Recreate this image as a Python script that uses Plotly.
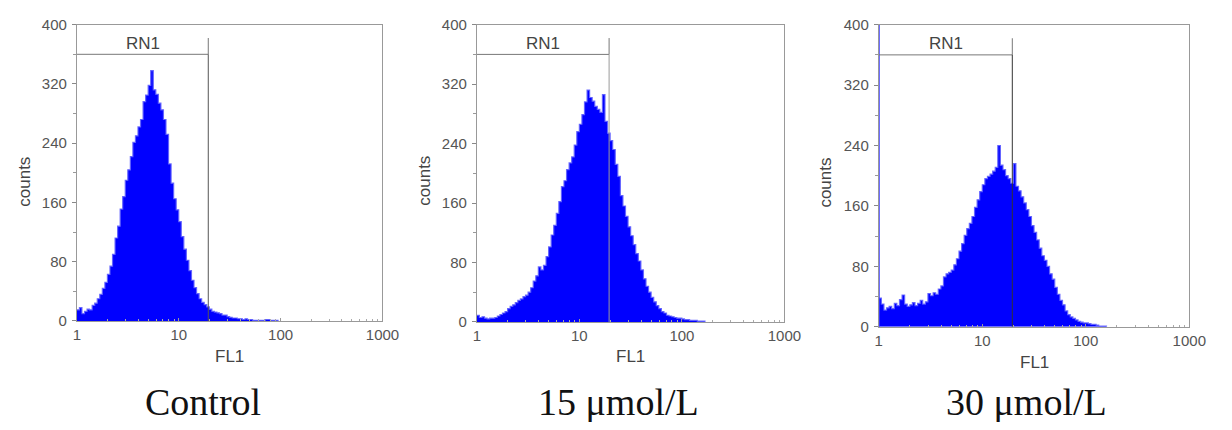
import math
import plotly.graph_objects as go

# ---------------- data ----------------
panel_titles = ["Control", "15 μmol/L", "30 μmol/L"]
x_tick_values = [1, 10, 100, 1000]
y_tick_values = [0, 80, 160, 240, 320, 400]
channels_per_decade = 40          # log-channel resolution of FL1

counts_control = [
    15, 18, 10, 13, 16, 15, 21, 24, 30, 36, 44, 52, 63, 74, 90, 112, 128, 151, 168, 190,
    204, 222, 241, 250, 262, 272, 296, 305, 318, 338, 312, 306, 294, 285, 272, 252, 212, 186, 165, 150,
    134, 114, 97, 82, 68, 55, 45, 37, 30, 25, 22, 19, 16, 13, 12, 11, 10, 8, 8, 6,
    5, 4, 4, 3, 3, 2, 3, 2, 2, 1, 1, 1, 1, 1, 2, 2, 1, 1, 1, 0,
]
counts_15 = [
    9, 6, 7, 5, 4, 5, 5, 6, 8, 10, 12, 14, 18, 21, 23, 26, 29, 31, 34, 36,
    40, 46, 55, 62, 74, 70, 76, 88, 101, 117, 130, 146, 162, 182, 190, 205, 214, 222, 238, 256,
    266, 279, 296, 312, 302, 297, 290, 286, 282, 306, 270, 254, 244, 232, 212, 196, 170, 156, 142, 128,
    116, 104, 92, 82, 70, 58, 48, 40, 33, 27, 22, 18, 14, 12, 9, 8, 7, 6, 5, 5,
    4, 3, 3, 2, 2, 2, 1, 1, 1, 0,
]
counts_30 = [
    38, 30, 22, 25, 27, 24, 31, 28, 36, 42, 30, 27, 29, 32, 28, 31, 35, 30, 33, 44,
    41, 45, 43, 50, 54, 66, 70, 72, 75, 82, 90, 100, 110, 121, 130, 137, 146, 158, 168, 179,
    188, 196, 199, 202, 206, 211, 240, 214, 208, 200, 196, 190, 216, 186, 180, 172, 164, 155, 146, 134,
    125, 115, 104, 94, 88, 80, 70, 63, 52, 43, 35, 29, 21, 16, 13, 11, 9, 7, 6, 5,
    5, 4, 3, 3, 2, 1, 1, 1, 0,
]
first_channel_offscale_30 = 450   # first channel of the 30 μmol/L sample is off scale

gate_label = "RN1"
gate_upper_fl1 = 19.5
gate_level_counts = 360
gate_marker_top_counts = 382
gate_label_counts = 375
gate_line_colors = ["#555555", "#9a9a9a", "#333333"]

all_counts = [counts_control, counts_15, counts_30]

# ---------------- layout geometry (page pixels) ----------------
PAGE_W, PAGE_H = 1232, 430
BODY_MARGIN = 8                      # default HTML body margin
W, H = PAGE_W - 2 * BODY_MARGIN, PAGE_H - 2 * BODY_MARGIN
panels_px = [  # left, right, top, bottom of each plot area
    (74, 385, 16, 325),
    (481, 794, 16, 326),
    (890, 1206, 16, 331),
]
counts_title_px = [(21, 180), (428, 179), (836, 181)]
fl1_title_y_px = [362, 362, 368]
caption_px = [(202, 409), (625, 409), (1040, 409)]


def px_x(x):
    return (x - BODY_MARGIN) / W


def px_y(y):
    return 1 - (y - BODY_MARGIN) / H


fig = go.Figure()
axis_font = dict(family="Liberation Sans, Arial, sans-serif", size=15, color="#555555")
title_font = dict(family="Liberation Sans, Arial, sans-serif", size=17, color="#444444")

for i, counts in enumerate(all_counts):
    xa = "x" if i == 0 else f"x{i+1}"
    ya = "y" if i == 0 else f"y{i+1}"
    channels = [10 ** (k / channels_per_decade) for k in range(len(counts))]
    fig.add_trace(go.Scatter(
        x=channels, y=counts, mode="lines", line_shape="hv",
        fill="tozeroy", fillcolor="#0000ff",
        line=dict(color="rgba(95,95,255,0.9)", width=1.2),
        xaxis=xa, yaxis=ya, showlegend=False, hoverinfo="skip",
    ))
    if i == 2:
        fig.add_trace(go.Scatter(
            x=[channels[0], channels[0]], y=[0, first_channel_offscale_30],
            mode="lines", line=dict(color="#4040ff", width=2),
            xaxis=xa, yaxis=ya, showlegend=False, hoverinfo="skip",
        ))
    # gate marker RN1
    fig.add_trace(go.Scatter(
        x=[channels[0], gate_upper_fl1, gate_upper_fl1],
        y=[gate_level_counts, gate_level_counts, gate_marker_top_counts],
        mode="lines", line=dict(color="#777777", width=1),
        xaxis=xa, yaxis=ya, showlegend=False, hoverinfo="skip",
    ))
    fig.add_trace(go.Scatter(
        x=[gate_upper_fl1, gate_upper_fl1], y=[0, gate_level_counts],
        mode="lines", line=dict(color=gate_line_colors[i], width=1),
        xaxis=xa, yaxis=ya, showlegend=False, hoverinfo="skip",
    ))
    fig.add_annotation(
        x=math.log10(gate_upper_fl1) / 2, y=gate_label_counts,
        xref=xa, yref=ya, text=gate_label, showarrow=False,
        font=dict(family="Liberation Sans, Arial, sans-serif", size=17, color="#444444"),
        xanchor="center", yanchor="middle",
    )

    l, r, t, b = panels_px[i]
    xkey = "xaxis" if i == 0 else f"xaxis{i+1}"
    ykey = "yaxis" if i == 0 else f"yaxis{i+1}"
    fig.update_layout(**{
        xkey: dict(
            type="log", range=[0, 3], domain=[px_x(l), px_x(r)], anchor=ya,
            tickmode="array", tickvals=x_tick_values,
            ticktext=[str(v) for v in x_tick_values],
            ticks="inside", ticklen=3, tickcolor="#999999",
            minor=dict(dtick="D1", ticks="inside", ticklen=2, tickcolor="#aaaaaa", showgrid=False),
            showline=True, mirror=True, linecolor="#999999", linewidth=1,
            showgrid=False, zeroline=False, tickfont=axis_font,
            ticklabeloverflow="allow",
        ),
        ykey: dict(
            range=[0, 400], domain=[px_y(b), px_y(t)], anchor=xa,
            tickmode="array", tickvals=y_tick_values,
            ticks="outside", ticklen=4, tickcolor="#888888",
            minor=dict(dtick=40, ticks="outside", ticklen=3, tickcolor="#999999", showgrid=False),
            showline=True, mirror=True, linecolor="#999999", linewidth=1,
            showgrid=False, zeroline=False, tickfont=axis_font, ticklabelstandoff=2,
            ticklabeloverflow="allow",
        ),
    })
    cx, cy = counts_title_px[i]
    fig.add_annotation(x=px_x(cx), y=px_y(cy), xref="paper", yref="paper",
                       text="counts", textangle=-90, showarrow=False,
                       font=title_font, xanchor="center", yanchor="middle")
    fig.add_annotation(x=px_x((l + r) / 2), y=px_y(fl1_title_y_px[i]), xref="paper", yref="paper",
                       text="FL1", showarrow=False, font=title_font,
                       xanchor="center", yanchor="middle")
    kx, ky = caption_px[i]
    fig.add_annotation(x=px_x(kx), y=px_y(ky), xref="paper", yref="paper",
                       text=panel_titles[i], showarrow=False,
                       font=dict(family="Liberation Serif, Times New Roman, serif", size=38, color="#111111"),
                       xanchor="center", yanchor="middle")

fig.update_layout(
    width=W, height=H, margin=dict(l=0, r=0, t=0, b=0),
    paper_bgcolor="white", plot_bgcolor="white", showlegend=False,
)

fig.write_html("out.html")
